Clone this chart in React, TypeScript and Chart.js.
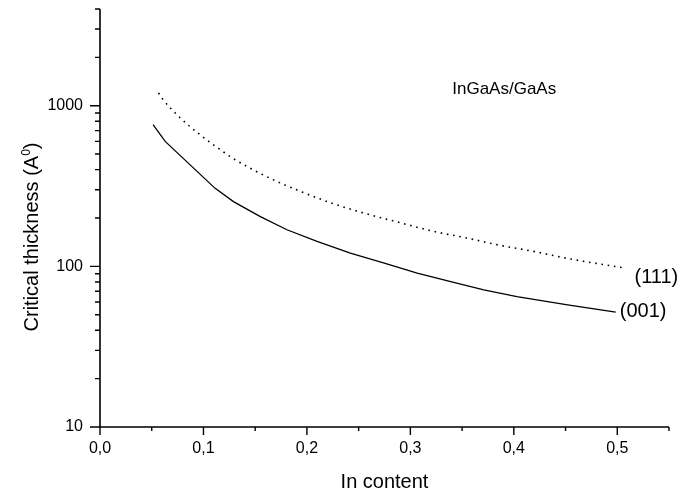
import React, { useEffect, useRef } from "react";
import { Chart, registerables } from "chart.js";

Chart.register(...registerables);

// (001) orientation – solid curve
const inContent001 = [0.0513, 0.063, 0.111, 0.129, 0.155, 0.1807, 0.2098, 0.242, 0.274, 0.3066, 0.339, 0.371, 0.403, 0.452, 0.4985];
const thickness001 = [762, 600, 307, 253, 204, 169, 143, 121, 105, 90.8, 80.4, 71.5, 64.9, 57.5, 51.9];

// (111) orientation – dotted curve
const inContent111 = [0.0565, 0.061, 0.0774, 0.0968, 0.121, 0.129, 0.161, 0.1936, 0.226, 0.258, 0.29, 0.3227, 0.355, 0.387, 0.419, 0.452, 0.508];
const thickness111 = [1200, 1090, 842, 659, 507, 468, 362, 293, 245, 212, 187, 165, 150, 135, 124, 112, 97.5];

// axes
const xMajorTicks = [0, 0.1, 0.2, 0.3, 0.4, 0.5];
const xMinorTicks = [0.05, 0.15, 0.25, 0.35, 0.45, 0.55];
const yMajorTicks = [10, 100, 1000];
const xMin = 0;
const xMax = 0.55;
const yMin = 10;
const yMax = 4000;

const FONT = "'Liberation Sans', Arial, Helvetica, sans-serif";

const axesPlugin = {
  id: "originAxes",
  afterDraw(chart: any) {
    const { ctx, chartArea, scales } = chart;
    const xs = scales.x;
    const ys = scales.y;
    const left = chartArea.left;
    const bottom = chartArea.bottom;
    ctx.save();
    ctx.strokeStyle = "#000";
    ctx.lineWidth = 1.6;
    ctx.lineCap = "butt";
    // axis lines
    ctx.beginPath();
    ctx.moveTo(left, chartArea.top);
    ctx.lineTo(left, bottom + 0.8);
    ctx.moveTo(left - 0.8, bottom);
    ctx.lineTo(chartArea.right, bottom);
    ctx.stroke();
    ctx.lineWidth = 1.4;
    ctx.beginPath();
    // y ticks
    yMajorTicks.forEach((v) => {
      const p = ys.getPixelForValue(v);
      ctx.moveTo(left - 10, p);
      ctx.lineTo(left, p);
    });
    yMajorTicks.forEach((d) => {
      for (let k = 2; k <= 9; k++) {
        const v = k * d;
        if (v > yMax) break;
        const p = ys.getPixelForValue(v);
        ctx.moveTo(left - 5, p);
        ctx.lineTo(left, p);
      }
    });
    // x ticks
    xMajorTicks.forEach((v) => {
      const p = xs.getPixelForValue(v);
      ctx.moveTo(p, bottom);
      ctx.lineTo(p, bottom + 8);
    });
    xMinorTicks.forEach((v) => {
      const p = xs.getPixelForValue(v);
      ctx.moveTo(p, bottom);
      ctx.lineTo(p, bottom + 4);
    });
    ctx.stroke();

    // y title with superscript
    const yTitleMain = "Critical thickness (A";
    const yTitleSup = "0";
    const yTitleEnd = ")";
    const mainFont = `20px ${FONT}`;
    const supFont = `12px ${FONT}`;
    ctx.fillStyle = "#000";
    ctx.font = mainFont;
    const w1 = ctx.measureText(yTitleMain).width;
    const w3 = ctx.measureText(yTitleEnd).width;
    ctx.font = supFont;
    const w2 = ctx.measureText(yTitleSup).width;
    const total = w1 + w2 + w3;
    const cy = 237;
    ctx.translate(38, cy);
    ctx.rotate(-Math.PI / 2);
    ctx.textBaseline = "alphabetic";
    ctx.textAlign = "left";
    const x0 = -total / 2;
    ctx.font = mainFont;
    ctx.fillText(yTitleMain, x0, 0);
    ctx.font = supFont;
    ctx.fillText(yTitleSup, x0 + w1, -8);
    ctx.font = mainFont;
    ctx.fillText(yTitleEnd, x0 + w1 + w2, 0);
    ctx.restore();

    // annotations
    ctx.save();
    ctx.fillStyle = "#000";
    ctx.textAlign = "left";
    ctx.textBaseline = "alphabetic";
    ctx.font = `17px ${FONT}`;
    ctx.fillText("InGaAs/GaAs", xs.getPixelForValue(0.3405), ys.getPixelForValue(1180));
    ctx.font = `20px ${FONT}`;
    ctx.textBaseline = "middle";
    const n001 = inContent001.length - 1;
    ctx.fillText(
      "(001)",
      xs.getPixelForValue(inContent001[n001]) + 4,
      ys.getPixelForValue(thickness001[n001]) - 1
    );
    const n111 = inContent111.length - 1;
    ctx.fillText(
      "(111)",
      xs.getPixelForValue(inContent111[n111]) + 9,
      ys.getPixelForValue(thickness111[n111]) + 9
    );
    ctx.restore();
  },
};

export default function App() {
  const ref = useRef<HTMLCanvasElement | null>(null);
  useEffect(() => {
    if (!ref.current) return;
    const chart = new Chart(ref.current, {
      type: "line",
      data: {
        datasets: [
          {
            label: "(001)",
            data: inContent001.map((x, i) => ({ x, y: thickness001[i] })),
            borderColor: "#000",
            borderWidth: 1.3,
            pointRadius: 0,
            tension: 0,
            fill: false,
          },
          {
            label: "(111)",
            data: inContent111.map((x, i) => ({ x, y: thickness111[i] })),
            borderColor: "#000",
            borderWidth: 1.6,
            borderDash: [1.6, 4.7],
            pointRadius: 0,
            cubicInterpolationMode: "monotone",
            fill: false,
          },
        ],
      },
      options: {
        animation: false,
        responsive: false,
        maintainAspectRatio: false,
        layout: { padding: { top: 9, right: 14, left: 0, bottom: 0 } },
        plugins: { legend: { display: false }, tooltip: { enabled: false } },
        scales: {
          x: {
            type: "linear",
            min: xMin,
            max: xMax,
            grid: { display: false, drawTicks: false },
            border: { display: false },
            afterBuildTicks: (s: any) => {
              s.ticks = xMajorTicks.map((v) => ({ value: v }));
            },
            afterFit: (s: any) => {
              s.height = 67;
              s.paddingLeft = 0;
              s.paddingRight = 0;
            },
            ticks: {
              color: "#000",
              padding: 12,
              maxRotation: 0,
              autoSkip: false,
              font: { family: FONT, size: 16 },
              callback: (v: any) => Number(v).toFixed(1).replace(".", ","),
            },
            title: {
              display: true,
              text: "In content",
              color: "#000",
              font: { family: FONT, size: 20 },
              padding: { top: 0, bottom: 0 },
            },
          },
          y: {
            type: "logarithmic",
            min: yMin,
            max: yMax,
            grid: { display: false, drawTicks: false },
            border: { display: false },
            afterBuildTicks: (s: any) => {
              s.ticks = yMajorTicks.map((v) => ({ value: v }));
            },
            afterFit: (s: any) => {
              s.width = 100;
              s.paddingTop = 0;
              s.paddingBottom = 0;
            },
            ticks: {
              color: "#000",
              padding: 17,
              autoSkip: false,
              font: { family: FONT, size: 16 },
              callback: (v: any) => String(v),
            },
            title: { display: false },
          },
        },
      },
      plugins: [axesPlugin],
    });
    return () => chart.destroy();
  }, []);
  return (
    <div style={{ position: "absolute", left: 0, top: 0, width: 683, height: 494, background: "#fff" }}>
      <canvas ref={ref} width={683} height={494} />
    </div>
  );
}
